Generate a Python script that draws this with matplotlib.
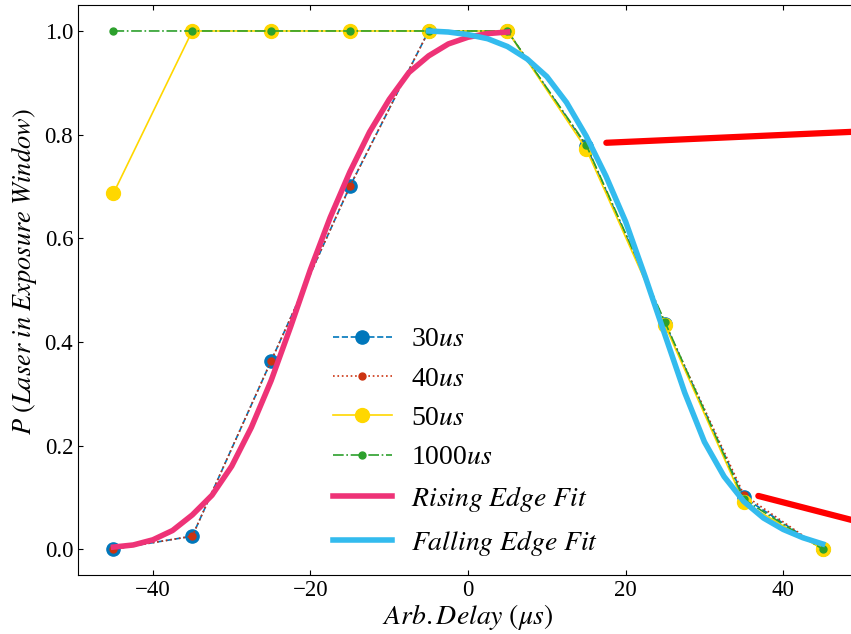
import numpy as np
import matplotlib
matplotlib.use('Agg')
import matplotlib.pyplot as plt

plt.rcParams['font.family'] = ['Liberation Serif', 'DejaVu Serif']
plt.rcParams['mathtext.fontset'] = 'stix'

delay = [-45, -35, -25, -15, -5, 5, 15, 25, 35, 45]
p_30us = [0.0, 0.025, 0.363, 0.70, 1.0, 1.0, 0.778, 0.435, 0.100, 0.0]
p_40us = [0.0, 0.025, 0.363, 0.70, 1.0, 1.0, 0.778, 0.436, 0.105, 0.0]
p_50us = [0.687, 1.0, 1.0, 1.0, 1.0, 1.0, 0.772, 0.432, 0.090, 0.0]
p_1000us = [1.0, 1.0, 1.0, 1.0, 1.0, 1.0, 0.780, 0.438, 0.096, 0.0]

# fit curves
rise_x = [-45, -42.5, -40, -37.5, -35, -32.5, -30, -27.5, -25, -22.5, -20,
          -17.5, -15, -12.5, -10, -7.5, -5, -2.5, 0, 2.5, 5]
rise_y = [0.004, 0.008, 0.018, 0.036, 0.066, 0.104, 0.160, 0.235, 0.325, 0.430, 0.540,
          0.640, 0.728, 0.805, 0.868, 0.920, 0.952, 0.975, 0.988, 0.995, 0.998]
fall_x = [-5, -2.5, 0, 2.5, 5, 7.5, 10, 12.5, 15, 17.5, 20,
          22.5, 25, 27.5, 30, 32.5, 35, 37.5, 40, 42.5, 45]
fall_y = [1.0, 0.998, 0.993, 0.985, 0.970, 0.946, 0.912, 0.862, 0.797, 0.720, 0.632,
          0.525, 0.413, 0.302, 0.207, 0.140, 0.092, 0.060, 0.038, 0.022, 0.010]

fig = plt.figure(figsize=(8.51, 6.34), dpi=100)
ax = fig.add_axes([0.0917, 0.093, 0.9166, 0.899])

ax.plot(delay, p_30us, '--o', color='#0077BB', lw=1.2, ms=9.5, label='30$us$')
ax.plot(delay, p_40us, ':o', color='#CC3311', lw=1.2, ms=5, label='40$us$')
ax.plot(delay, p_50us, '-o', color='#FFD700', lw=1.2, ms=10, label='50$us$')
ax.plot(delay, p_1000us, '-.o', color='#2CA02C', lw=1.2, ms=5, label='1000$us$')
ax.plot(rise_x, rise_y, color='#EE3377', lw=4, solid_joinstyle='round',
        label=r'$Rising\ Edge\ Fit$')
ax.plot(fall_x, fall_y, color='#33BBEE', lw=4, solid_joinstyle='round',
        label=r'$Falling\ Edge\ Fit$')

ax.annotate('', xy=(17.2, 0.784), xytext=(60, 0.813),
            arrowprops=dict(arrowstyle='-', color='red', lw=4.5))
ax.annotate('', xy=(36.5, 0.104), xytext=(60, 0.012),
            arrowprops=dict(arrowstyle='-', color='red', lw=4.5))

ax.set_xlim(-49.5, 49.5)
ax.set_ylim(-0.05, 1.05)
ax.set_xticks([-40, -20, 0, 20, 40])
ax.set_yticks([0.0, 0.2, 0.4, 0.6, 0.8, 1.0])
ax.tick_params(direction='in', top=True, right=True, labelsize=16.5)
ax.set_xlabel(r'$Arb.Delay\ (\mu s)$', fontsize=20, labelpad=1)
ax.set_ylabel(r'$P\ (Laser\ in\ Exposure\ Window)$', fontsize=19)
ax.yaxis.set_label_coords(-0.05, 0.532)

ax.legend(loc='upper left', bbox_to_anchor=(0.313, 0.455), frameon=False,
          fontsize=20, handlelength=2.1, handletextpad=0.7, labelspacing=0.5,
          borderaxespad=0)

fig.savefig('out.png', dpi=100)
